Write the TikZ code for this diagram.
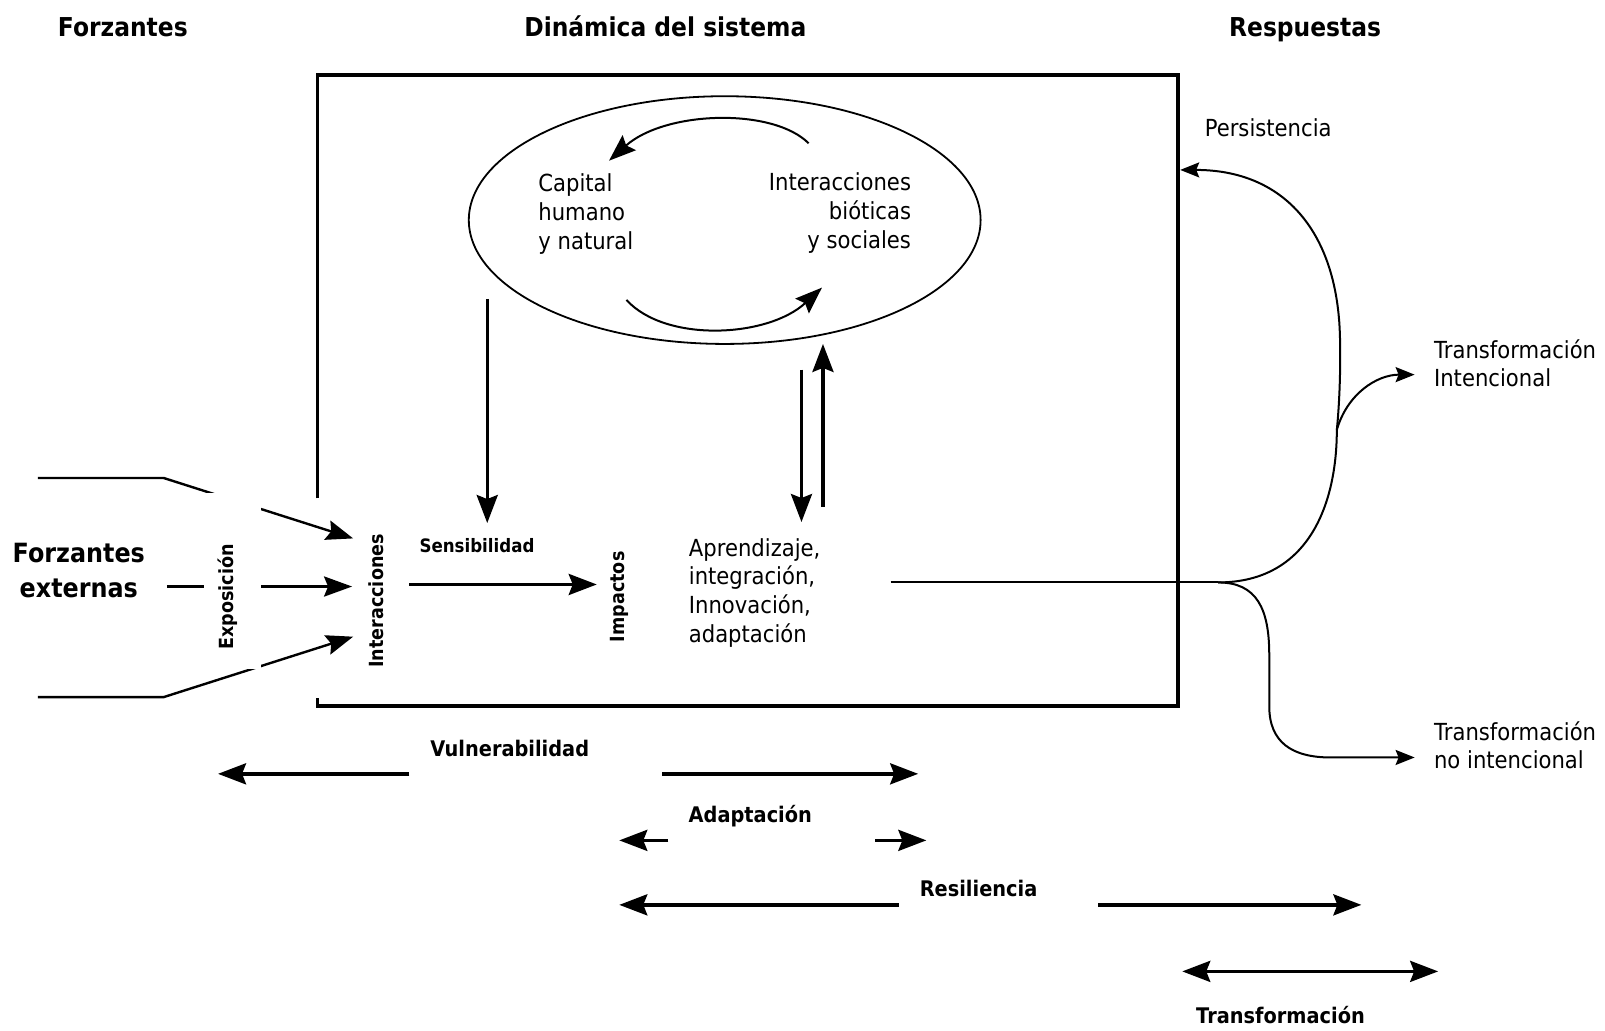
\documentclass[tikz,border=0pt]{standalone}
\usepackage{fontspec}
\setmainfont{DejaVu Sans}[FakeStretch=0.9]
\usetikzlibrary{arrows.meta}
\begin{document}
\begin{tikzpicture}[x=1.0236pt,y=-1.0236pt,
  every node/.style={inner sep=0pt,outer sep=0pt},
  txt/.style={font=\fontsize{23.5}{28.7}\selectfont},
  hdr/.style={font=\fontsize{26}{30}\selectfont\bfseries,anchor=base},
  big/.style={font=\fontsize{26.5}{35}\selectfont\bfseries},
  lbl/.style={font=\fontsize{19.5}{22}\selectfont\bfseries},
  sens/.style={font=\fontsize{18.5}{22}\selectfont\bfseries},
  bot/.style={font=\fontsize{21.5}{25}\selectfont\bfseries},
  frame/.style={line width=3.6pt},
  bigarrow/.style={line width=3.4pt,-{Stealth[length=28pt,width=21pt,inset=4pt]}},
  forcing/.style={line width=2.4pt,-{Stealth[length=27pt,width=20pt,inset=4pt]}},
  looparrow/.style={line width=2pt,-{Stealth[length=27pt,width=20pt,inset=4pt]}},
  resp/.style={line width=2pt,-{Stealth[length=19pt,width=15pt,inset=3pt]}},
  branch/.style={line width=2pt},
]
\useasboundingbox (0,0) rectangle (1568,1007);

% column headings
\node[hdr] (hForz) at (120,35.5) {Forzantes};
\node[hdr] (hDin) at (650,35.5) {Dinámica del sistema};
\node[hdr] (hResp) at (1275,35.5) {Respuestas};

% system frame (open on the left where the forcings enter)
\draw[frame] (310,487) -- (310,73) -- (1151,73) -- (1151,690) -- (310,690) -- (310,682);

% capital / interactions loop
\draw[line width=1.8pt] (708,215) ellipse [x radius=250, y radius=121];
\node[txt,align=left,anchor=west] (capital) at (526,209) {Capital\\humano\\y natural};
\node[txt,align=right,anchor=east] (biot) at (890,208) {Interacciones\\bióticas\\y sociales};
\coordinate (la) at (790,140);
\coordinate (lb) at (595,157);
\coordinate (lc) at (612,293);
\coordinate (ld) at (803,281);
\draw[looparrow] (la) .. controls (755,105) and (650,108) .. (lb);
\draw[looparrow] (lc) .. controls (650,335) and (750,330) .. (ld);

% external forcings
\node[big,align=center] (forz) at (77,557) {Forzantes\\externas};
\coordinate (tA) at (345,526);
\coordinate (mA) at (344,573);
\coordinate (bA) at (345,622);
\draw[forcing] (37,467) -- (160,467) -- (tA);
\draw[line width=3.2pt,-{Stealth[length=28pt,width=20pt,inset=4pt]}] (163,573) -- (mA);
\draw[forcing] (37,681) -- (160,681) -- (bA);
\fill[white] (199,482) rectangle (255,654);
\node[lbl,rotate=90] (expo) at (222,583) {Exposición};
\node[lbl,rotate=90] (inter) at (368,587) {Interacciones};

% sensitivity and impacts
\node[sens] (sensi) at (466,533) {Sensibilidad};
\coordinate (sTop) at (476,292);
\coordinate (sBot) at (476,511);
\draw[bigarrow] (sTop) -- (sBot);
\node[lbl,rotate=90] (impa) at (605,583) {Impactos};
\coordinate (iIn) at (583,571);
\draw[bigarrow] (400,571) -- (iIn);
\node[txt,align=left,anchor=west] (apr) at (673,579) {Aprendizaje,\\integración,\\Innovación,\\adaptación};
\draw[bigarrow] (783,361) -- (783,510);
\draw[bigarrow] (804,495) -- (804,336);

% responses
\node[txt,anchor=west] (pers) at (1177,125) {Persistencia};
\node[txt,align=left,anchor=west] (tInt) at (1401,355) {Transformación\\Intencional};
\node[txt,align=left,anchor=west] (tNoInt) at (1401,728) {Transformación\\no intencional};
\coordinate (fork) at (1190,569);
\coordinate (split) at (1306,420);
\draw[branch] (870,569) -- (fork);
\draw[resp] (fork) .. controls (1280,569) and (1306,490) .. (split)
  .. controls (1310,380) and (1310,330) .. (1308,310)
  .. controls (1300,220) and (1250,166) .. (1153,166);
\draw[resp] (split) .. controls (1316,385) and (1345,366) .. (1382,366);
\draw[resp] (fork) .. controls (1228,569) and (1240,595) .. (1240,640)
  -- (1240,690) .. controls (1240,725) and (1262,740) .. (1300,740) -- (1382,740);

% ranges of the concepts
\node[bot] (vul) at (498,731) {Vulnerabilidad};
\draw[bigarrow] (400,756) -- (213,756);
\draw[bigarrow] (647,756) -- (897,756);
\node[bot] (adap) at (733,797) {Adaptación};
\draw[bigarrow] (653,821) -- (605,821);
\draw[bigarrow] (855,821) -- (905,821);
\node[bot] (resil) at (956,868) {Resiliencia};
\draw[bigarrow] (878,884) -- (605,884);
\draw[bigarrow] (1073,884) -- (1330,884);
\node[bot] (transf) at (1251,992) {Transformación};
\draw[line width=3.4pt,{Stealth[length=28pt,width=21pt,inset=4pt]}-{Stealth[length=28pt,width=21pt,inset=4pt]}] (1155,949) -- (1405,949);
\end{tikzpicture}
\end{document}
